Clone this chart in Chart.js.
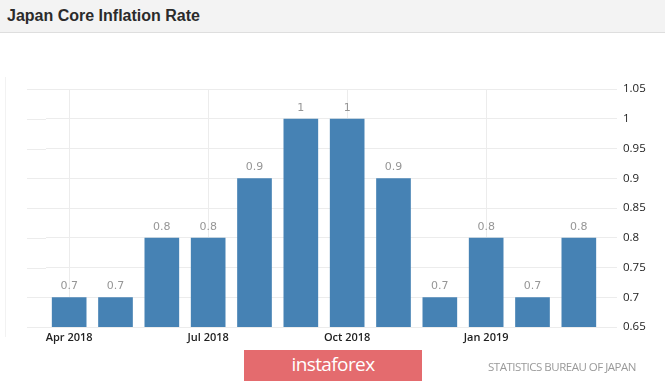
<!DOCTYPE html>
<html>
<head>
<meta charset="utf-8">
<script src="https://cdn.jsdelivr.net/npm/chart.js@4"></script>
<style>
  html, body { margin: 0; padding: 0; background: #fff; }
  body { width: 665px; height: 381px; position: relative; overflow: hidden; }
  #header { position: absolute; left: 0; top: 0; width: 665px; height: 32px; background: #f3f3f3; border-bottom: 1px solid #dedede; }
  #title { position: absolute; left: 7px; top: 7px; font: bold 16px "Liberation Sans", Arial, sans-serif; color: #2b2b2b; }
  #leftline { position: absolute; left: 5px; top: 77px; width: 1px; height: 260px; background: #f2f2f2; }
  #wrap { position: absolute; left: 0; top: 0; width: 665px; height: 381px; }
  #wm { position: absolute; left: 244px; top: 350px; width: 178px; height: 31px; background: #e46b6e; color: #fff; font: 19px "Open Sans", sans-serif; letter-spacing: -0.6px; text-align: center; line-height: 28px; }
  #src { position: absolute; left: 488px; top: 359px; font: 11.5px "Open Sans", sans-serif; color: #9a9a9a; letter-spacing: -0.5px; }
</style>
</head>
<body>
<div id="header"><div id="title">Japan Core Inflation Rate</div></div>
<div id="leftline"></div>
<div id="wrap"><canvas id="c" width="665" height="381"></canvas></div>
<div id="wm">instaforex</div>
<div id="src">STATISTICS BUREAU OF JAPAN</div>
<script>
const categories = ["Apr 2018","May 2018","Jun 2018","Jul 2018","Aug 2018","Sep 2018","Oct 2018","Nov 2018","Dec 2018","Jan 2019","Feb 2019","Mar 2019"];
const values = [0.7, 0.7, 0.8, 0.8, 0.9, 1, 1, 0.9, 0.7, 0.8, 0.7, 0.8];
const yTicks = [0.65, 0.7, 0.75, 0.8, 0.85, 0.9, 0.95, 1, 1.05];
const labelEvery = 3;

const fmt = v => String(Number(v.toFixed(2)));

const extras = {
  id: 'extras',
  beforeDatasetsDraw(chart) {
    const ctx = chart.ctx, ys = chart.scales.y, ca = chart.chartArea;
    ctx.save();
    ctx.strokeStyle = '#ececec';
    ctx.lineWidth = 1;
    yTicks.forEach(t => {
      const py = Math.round(ys.getPixelForValue(t)) + 0.5;
      ctx.beginPath(); ctx.moveTo(27, py); ctx.lineTo(ca.left, py); ctx.stroke();
    });
    ctx.restore();
  },
  afterDatasetsDraw(chart) {
    const ctx = chart.ctx;
    const meta = chart.getDatasetMeta(0);
    ctx.save();
    ctx.fillStyle = '#969696';
    ctx.font = '11px "DejaVu Sans", sans-serif';
    ctx.textAlign = 'center';
    ctx.textBaseline = 'middle';
    meta.data.forEach((bar, i) => {
      ctx.fillText(fmt(values[i]), bar.x, bar.y - 11);
    });
    ctx.restore();
  }
};

new Chart(document.getElementById('c'), {
  type: 'bar',
  data: {
    labels: categories,
    datasets: [{
      data: values,
      backgroundColor: '#4682b4',
      borderWidth: 0,
      barPercentage: 0.86,
      categoryPercentage: 0.87
    }]
  },
  options: {
    responsive: false,
    animation: false,
    events: [],
    layout: { padding: { left: 46, top: 89, right: 0, bottom: 0 } },
    plugins: { legend: { display: false }, tooltip: { enabled: false }, title: { display: false } },
    scales: {
      x: {
        offset: true,
        border: { display: false },
        grid: {
          offset: false,
          drawTicks: false,
          color: ctx => (ctx.index % labelEvery === 0 ? '#ececec' : 'rgba(0,0,0,0)')
        },
        ticks: {
          autoSkip: false,
          maxRotation: 0,
          padding: 4,
          color: '#222',
          font: { family: '"Open Sans", sans-serif', size: 11, weight: '600' },
          callback: (v, i) => (i % labelEvery === 0 ? categories[i] : '')
        },
        afterFit: s => { s.height = 54; }
      },
      y: {
        position: 'right',
        min: 0.65,
        max: 1.05,
        border: { display: false },
        grid: { color: '#ececec', drawTicks: true, tickLength: 15, tickColor: '#ececec' },
        afterBuildTicks: s => { s.ticks = yTicks.map(v => ({ value: v })); },
        ticks: {
          padding: 6,
          color: '#222',
          font: { family: '"Open Sans", sans-serif', size: 11.5 },
          callback: v => fmt(v)
        },
        afterFit: s => { s.width = 63; }
      }
    }
  },
  plugins: [extras]
});
</script>
</body>
</html>
